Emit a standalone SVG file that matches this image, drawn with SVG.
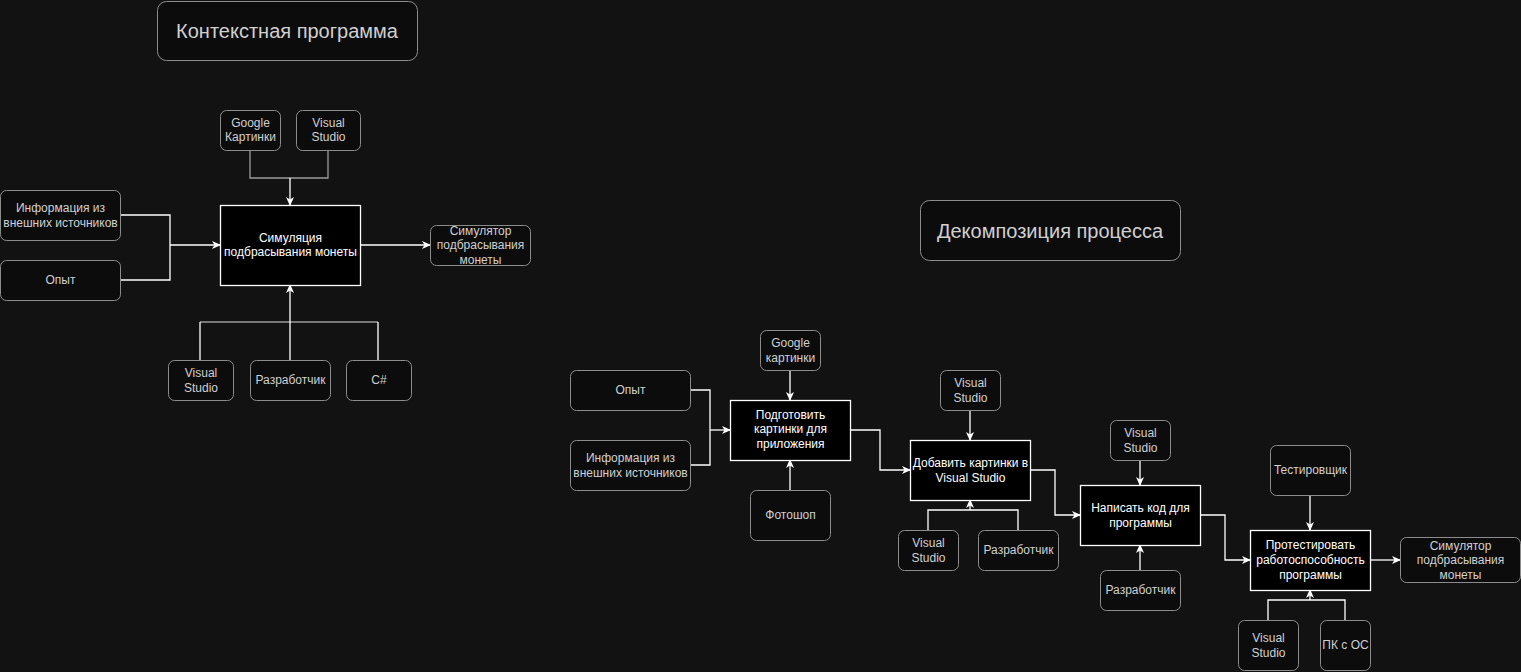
<svg xmlns="http://www.w3.org/2000/svg" width="1521" height="672" viewBox="0 0 1521 672">
<style>
.n{fill:#0c0c0c;stroke:#8c8c8c;stroke-width:1}
.p{fill:#000;stroke:#fff;stroke-width:1.3}
.t{font-family:"Liberation Sans",Arial,sans-serif;font-size:12px;fill:#d0d0d0;text-anchor:middle}
.tp{font-family:"Liberation Sans",Arial,sans-serif;font-size:12px;fill:#fff;text-anchor:middle}
.ti{font-family:"Liberation Sans",Arial,sans-serif;font-size:20px;fill:#d0d0d0;text-anchor:middle}
.e{fill:none;stroke:#fff;stroke-width:1.3}
.g{fill:none;stroke:#9a9a9a;stroke-width:1.3}
.a{fill:none;stroke:#fff;stroke-width:1.3;marker-end:url(#ar)}
</style>
<defs>
<marker id="ar" markerWidth="10" markerHeight="8" refX="8" refY="4" orient="auto" markerUnits="userSpaceOnUse">
<path d="M0,0 L9,4 L0,8 L2.5,4 z" fill="#fff"/>
</marker>
</defs>
<rect x="0" y="0" width="1521" height="672" fill="#121212"/>

<g id="title1"><rect class="n" x="157.5" y="1.5" width="260" height="59" rx="9"/><text class="ti" x="287" y="38">Контекстная программа</text></g>
<g id="title2"><rect class="n" x="920.5" y="200.5" width="260" height="60" rx="9"/><text class="ti" x="1050" y="238">Декомпозиция процесса</text></g>

<g id="connectors">
<!-- left diagram -->
<polyline class="g" points="250,150 250,178 328,178 328,150"/>
<line class="a" x1="290" y1="178" x2="290" y2="205"/>
<polyline class="e" points="120,215 170,215 170,280 120,280"/>
<line class="a" x1="170" y1="245" x2="220" y2="245"/>
<line class="a" x1="360" y1="245" x2="430" y2="245"/>
<polyline class="g" points="200,322 378,322"/>
<line class="e" x1="200" y1="360" x2="200" y2="322"/>
<line class="e" x1="378" y1="360" x2="378" y2="322"/>
<line class="a" x1="290" y1="360" x2="290" y2="285"/>
<!-- right diagram -->
<polyline class="e" points="690,390 710,390 710,465 690,465"/>
<line class="a" x1="710" y1="430" x2="730" y2="430"/>
<line class="a" x1="790" y1="370" x2="790" y2="400"/>
<line class="a" x1="790" y1="490" x2="790" y2="460"/>
<polyline class="a" points="850,430 880,430 880,470 910,470"/>
<line class="a" x1="970" y1="410" x2="970" y2="440"/>
<polyline class="e" points="928,530 928,510 1018,510 1018,530"/>
<line class="a" x1="970" y1="510" x2="970" y2="500"/>
<polyline class="a" points="1030,470 1055,470 1055,515 1080,515"/>
<line class="a" x1="1140" y1="460" x2="1140" y2="485"/>
<line class="a" x1="1140" y1="570" x2="1140" y2="545"/>
<polyline class="a" points="1200,515 1225,515 1225,560 1250,560"/>
<line class="a" x1="1310" y1="495" x2="1310" y2="530"/>
<polyline class="e" points="1268,620 1268,600 1345,600 1345,620"/>
<line class="a" x1="1310" y1="600" x2="1310" y2="590"/>
<line class="a" x1="1370" y1="560" x2="1400" y2="560"/>
</g>

<!-- left diagram nodes -->
<g id="l_google"><rect class="n" x="220.5" y="110.5" width="60" height="40" rx="6"/><text class="t" x="250.5" y="127">Google</text><text class="t" x="250.5" y="141">Картинки</text></g>
<g id="l_vs_top"><rect class="n" x="296.5" y="110.5" width="64" height="40" rx="6"/><text class="t" x="328.5" y="127">Visual</text><text class="t" x="328.5" y="141">Studio</text></g>
<g id="l_main"><rect class="p" x="220.5" y="205.5" width="140" height="80"/><text class="tp" x="290.5" y="242">Симуляция</text><text class="tp" x="290.5" y="256">подбрасывания монеты</text></g>
<g id="l_info"><rect class="n" x="0.5" y="190.5" width="120" height="50" rx="6"/><text class="t" x="60.5" y="212">Информация из</text><text class="t" x="60.5" y="227">внешних источников</text></g>
<g id="l_exp"><rect class="n" x="0.5" y="260.5" width="120" height="40" rx="6"/><text class="t" x="60.5" y="284">Опыт</text></g>
<g id="l_out"><rect class="n" x="430.5" y="225.5" width="100" height="40" rx="6"/><text class="t" x="480.5" y="235">Симулятор</text><text class="t" x="480.5" y="249">подбрасывания</text><text class="t" x="480.5" y="264">монеты</text></g>
<g id="l_vs_bot"><rect class="n" x="168.5" y="360.5" width="65" height="40" rx="6"/><text class="t" x="201" y="377">Visual</text><text class="t" x="201" y="392">Studio</text></g>
<g id="l_dev"><rect class="n" x="250.5" y="360.5" width="80" height="40" rx="6"/><text class="t" x="290.5" y="384">Разработчик</text></g>
<g id="l_cs"><rect class="n" x="346.5" y="360.5" width="65" height="40" rx="6"/><text class="t" x="379" y="384">C#</text></g>

<!-- right diagram nodes -->
<g id="r_exp"><rect class="n" x="570.5" y="370.5" width="120" height="40" rx="6"/><text class="t" x="630.5" y="394">Опыт</text></g>
<g id="r_info"><rect class="n" x="570.5" y="440.5" width="120" height="50" rx="6"/><text class="t" x="630.5" y="462">Информация из</text><text class="t" x="630.5" y="477">внешних источников</text></g>
<g id="r_prep"><rect class="p" x="730.5" y="400.5" width="120" height="60"/><text class="tp" x="790.5" y="419">Подготовить</text><text class="tp" x="790.5" y="433">картинки для</text><text class="tp" x="790.5" y="448">приложения</text></g>
<g id="r_google"><rect class="n" x="760.5" y="330.5" width="60" height="40" rx="6"/><text class="t" x="790.5" y="347">Google</text><text class="t" x="790.5" y="362">картинки</text></g>
<g id="r_ps"><rect class="n" x="750.5" y="490.5" width="80" height="50" rx="6"/><text class="t" x="790.5" y="519">Фотошоп</text></g>
<g id="r_add"><rect class="p" x="910.5" y="440.5" width="120" height="60"/><text class="tp" x="970.5" y="467">Добавить картинки в</text><text class="tp" x="970.5" y="482">Visual Studio</text></g>
<g id="r_vs1"><rect class="n" x="940.5" y="370.5" width="60" height="40" rx="6"/><text class="t" x="970.5" y="387">Visual</text><text class="t" x="970.5" y="402">Studio</text></g>
<g id="r_vs2"><rect class="n" x="898.5" y="530.5" width="60" height="40" rx="6"/><text class="t" x="928.5" y="547">Visual</text><text class="t" x="928.5" y="562">Studio</text></g>
<g id="r_dev1"><rect class="n" x="978.5" y="530.5" width="80" height="40" rx="6"/><text class="t" x="1018.5" y="554">Разработчик</text></g>
<g id="r_code"><rect class="p" x="1080.5" y="485.5" width="120" height="60"/><text class="tp" x="1140.5" y="512">Написать код для</text><text class="tp" x="1140.5" y="527">программы</text></g>
<g id="r_vs3"><rect class="n" x="1110.5" y="420.5" width="60" height="40" rx="6"/><text class="t" x="1140.5" y="437">Visual</text><text class="t" x="1140.5" y="452">Studio</text></g>
<g id="r_dev2"><rect class="n" x="1100.5" y="570.5" width="80" height="40" rx="6"/><text class="t" x="1140.5" y="594">Разработчик</text></g>
<g id="r_test"><rect class="p" x="1250.5" y="530.5" width="120" height="60"/><text class="tp" x="1310.5" y="549">Протестировать</text><text class="tp" x="1310.5" y="564">работоспособность</text><text class="tp" x="1310.5" y="579">программы</text></g>
<g id="r_tester"><rect class="n" x="1270.5" y="445.5" width="80" height="50" rx="6"/><text class="t" x="1310.5" y="474">Тестировщик</text></g>
<g id="r_vs4"><rect class="n" x="1238.5" y="620.5" width="60" height="50" rx="6"/><text class="t" x="1268.5" y="642">Visual</text><text class="t" x="1268.5" y="657">Studio</text></g>
<g id="r_pc"><rect class="n" x="1320.5" y="620.5" width="50" height="50" rx="6"/><text class="t" x="1345.5" y="649">ПК с ОС</text></g>
<g id="r_out"><rect class="n" x="1400.5" y="537.5" width="120" height="45" rx="6"/><text class="t" x="1460.5" y="550">Симулятор</text><text class="t" x="1460.5" y="564">подбрасывания</text><text class="t" x="1460.5" y="579">монеты</text></g>
</svg>
